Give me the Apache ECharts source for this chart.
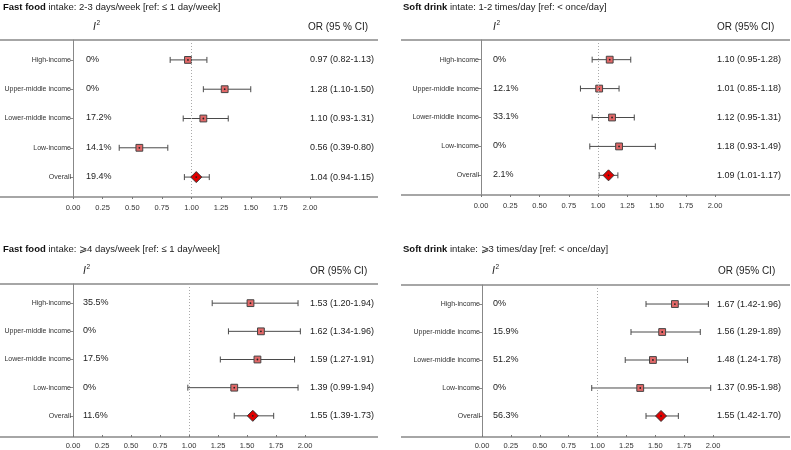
<!DOCTYPE html>
<html>
<head>
<meta charset="utf-8">
<script src="https://cdn.jsdelivr.net/npm/echarts@6/dist/echarts.min.js"></script>
<style>
  html, body { margin: 0; padding: 0; background: #fff; }
  #chart { width: 791px; height: 450px; }
</style>
</head>
<body>
<div id="chart"></div>
<script>
// regioes (linhas de cada painel)
const regioes = ['High-income', 'Upper-middle income', 'Lower-middle income', 'Low-income', 'Overall'];

// painel 1: fast food 2-3 dias/semana
const orFF23 = [0.97, 1.28, 1.10, 0.56, 1.04];
const loFF23 = [0.82, 1.10, 0.93, 0.39, 0.94];
const hiFF23 = [1.13, 1.50, 1.31, 0.80, 1.15];
const i2FF23 = ['0%', '0%', '17.2%', '14.1%', '19.4%'];

// painel 2: soft drink 1-2 vezes/dia
const orSD12 = [1.10, 1.01, 1.12, 1.18, 1.09];
const loSD12 = [0.95, 0.85, 0.95, 0.93, 1.01];
const hiSD12 = [1.28, 1.18, 1.31, 1.49, 1.17];
const i2SD12 = ['0%', '12.1%', '33.1%', '0%', '2.1%'];

// painel 3: fast food >= 4 dias/semana
const orFF4 = [1.53, 1.62, 1.59, 1.39, 1.55];
const loFF4 = [1.20, 1.34, 1.27, 0.99, 1.39];
const hiFF4 = [1.94, 1.96, 1.91, 1.94, 1.73];
const i2FF4 = ['35.5%', '0%', '17.5%', '0%', '11.6%'];

// painel 4: soft drink >= 3 vezes/dia
const orSD3 = [1.67, 1.56, 1.48, 1.37, 1.55];
const loSD3 = [1.42, 1.29, 1.24, 0.95, 1.42];
const hiSD3 = [1.96, 1.89, 1.78, 1.98, 1.70];
const i2SD3 = ['0%', '15.9%', '51.2%', '0%', '56.3%'];

const titulosNegrito = ['Fast food', 'Soft drink', 'Fast food', 'Soft drink'];
const titulosResto = [
  ' intake: 2-3 days/week [ref: \u2264 1 day/week]',
  ' intate: 1-2 times/day [ref: < once/day]',
  ' intake: \u2A7E4 days/week [ref: \u2264 1 day/week]',
  ' intake: \u2A7E3 times/day [ref: < once/day]'
];
const cabecalhosOR = ['OR (95 % CI)', 'OR (95% CI)', 'OR (95% CI)', 'OR (95% CI)'];

const paineis = [
  { or: orFF23, lo: loFF23, hi: hiFF23, i2: i2FF23 },
  { or: orSD12, lo: loSD12, hi: hiSD12, i2: i2SD12 },
  { or: orFF4, lo: loFF4, hi: hiFF4, i2: i2FF4 },
  { or: orSD3, lo: loSD3, hi: hiSD3, i2: i2SD3 }
];

// layout de cada painel (pixels)
const layout = [
  { left: 73, width: 237, top: 40, height: 157, ruleL: 0, ruleR: 378, tx: 3, ty: 2, hI: 93, hOR: 308, hy: 27, i2x: 13, orx: 0 },
  { left: 481, width: 234, top: 40, height: 155, ruleL: 401, ruleR: 790, tx: 403, ty: 2, hI: 493, hOR: 717, hy: 27, i2x: 12, orx: 2 },
  { left: 73, width: 232, top: 284, height: 153, ruleL: 0, ruleR: 378, tx: 3, ty: 244, hI: 83, hOR: 310, hy: 271, i2x: 10, orx: 5 },
  { left: 482, width: 231, top: 285, height: 152, ruleL: 401, ruleR: 790, tx: 403, ty: 244, hI: 492, hOR: 718, hy: 271, i2x: 11, orx: 4 }
];

const FONTE = '"Liberation Sans", Arial, Helvetica, sans-serif';

const chart = echarts.init(document.getElementById('chart'));

const grids = [], xAxes = [], yAxes = [], series = [], titles = [], graficos = [];

paineis.forEach((p, k) => {
  const L = layout[k];
  grids.push({ left: L.left, top: L.top, width: L.width, height: L.height });
  xAxes.push({
    type: 'value', gridIndex: k, min: 0, max: 2, interval: 0.25,
    axisLine: { show: false },
    axisTick: { show: true, length: 2, lineStyle: { color: '#777' } },
    splitLine: { show: false },
    axisLabel: { fontSize: 7.5, color: '#333', fontFamily: FONTE, margin: 7, formatter: v => v.toFixed(2) }
  });
  yAxes.push({
    type: 'value', gridIndex: k, inverse: true, min: 0.32, max: 5.68,
    axisLine: { show: true, lineStyle: { color: '#888', width: 1 } },
    axisTick: { show: true, length: 3, customValues: [1, 2, 3, 4, 5], lineStyle: { color: '#888' } },
    axisLabel: {
      show: true, customValues: [1, 2, 3, 4, 5], fontSize: 7, color: '#333', fontFamily: FONTE, margin: 2,
      formatter: v => regioes[Math.round(v) - 1] || ''
    },
    splitLine: { show: false }
  });

  const dados = regioes.map((r, i) => [p.or[i], p.lo[i], p.hi[i], i + 1]);

  series.push({
    type: 'custom',
    xAxisIndex: k, yAxisIndex: k,
    data: dados,
    silent: true,
    renderItem: (params, api) => {
      const i = params.dataIndex;
      const row = api.value(3);
      const y = api.coord([0, row])[1];
      const xo = api.coord([api.value(0), row])[0];
      const xl = api.coord([api.value(1), row])[0];
      const xh = api.coord([api.value(2), row])[0];
      const x0 = api.coord([0, row])[0];
      const x2 = api.coord([2, row])[0];
      const overall = i === regioes.length - 1;
      const cor = '#4a4a4a';
      const filhos = [
        { type: 'line', shape: { x1: xl, y1: y, x2: xh, y2: y }, style: { stroke: cor, lineWidth: 1 } },
        { type: 'line', shape: { x1: xl, y1: y - 3, x2: xl, y2: y + 3 }, style: { stroke: cor, lineWidth: 1 } },
        { type: 'line', shape: { x1: xh, y1: y - 3, x2: xh, y2: y + 3 }, style: { stroke: cor, lineWidth: 1 } }
      ];
      if (overall) {
        const s = 5.5;
        filhos.push({ type: 'polygon', shape: { points: [[xo, y - s], [xo + s, y], [xo, y + s], [xo - s, y]] },
          style: { fill: '#e00000', stroke: '#333', lineWidth: 1 } });
      } else {
        const s = 3.4;
        filhos.push({ type: 'rect', shape: { x: xo - s, y: y - s, width: 2 * s, height: 2 * s },
          style: { fill: '#e26868', stroke: '#444', lineWidth: 1 } });
      }
      filhos.push({ type: 'circle', shape: { cx: xo, cy: y, r: 0.9 }, style: { fill: '#222' } });
      filhos.push({ type: 'text', style: { text: p.i2[i], x: x0 + L.i2x, y: y - 0.5, fill: '#222', fontSize: 9,
        fontFamily: FONTE, align: 'left', verticalAlign: 'middle' } });
      const txt = p.or[i].toFixed(2) + ' (' + p.lo[i].toFixed(2) + '-' + p.hi[i].toFixed(2) + ')';
      filhos.push({ type: 'text', style: { text: txt, x: x2 + L.orx, y: y, fill: '#222', fontSize: 9,
        fontFamily: FONTE, align: 'left', verticalAlign: 'middle' } });
      return { type: 'group', children: filhos };
    },
    markLine: {
      silent: true, symbol: 'none', label: { show: false },
      lineStyle: { type: [1, 2], color: '#aaa', width: 1 },
      data: [{ xAxis: 1 }]
    }
  });

  titles.push({
    left: L.tx, top: L.ty, padding: 0,
    text: '{b|' + titulosNegrito[k] + '}{n|' + titulosResto[k] + '}',
    textStyle: {
      fontWeight: 'normal',
      rich: {
        b: { fontWeight: 'bold', fontSize: 9.5, color: '#111', fontFamily: FONTE },
        n: { fontWeight: 'normal', fontSize: 9.5, color: '#222', fontFamily: FONTE }
      }
    }
  });

  // linhas horizontais superior e inferior
  graficos.push({ type: 'line', shape: { x1: L.ruleL, y1: L.top, x2: L.ruleR, y2: L.top }, style: { stroke: '#888', lineWidth: 1.3 } });
  graficos.push({ type: 'line', shape: { x1: L.ruleL, y1: L.top + L.height, x2: L.ruleR, y2: L.top + L.height }, style: { stroke: '#888', lineWidth: 1.3 } });
  // cabecalhos
  graficos.push({ type: 'text', x: L.hI, y: L.hy, style: { text: 'I', fontStyle: 'italic', fontSize: 10.5, fill: '#222', fontFamily: FONTE, verticalAlign: 'middle' } });
  graficos.push({ type: 'text', x: L.hI + 3.5, y: L.hy - 4, style: { text: '2', fontSize: 6.5, fill: '#222', fontFamily: FONTE, verticalAlign: 'middle' } });
  graficos.push({ type: 'text', x: L.hOR, y: L.hy, style: { text: cabecalhosOR[k], fontSize: 10, fill: '#222', fontFamily: FONTE, verticalAlign: 'middle' } });
});

chart.setOption({
  animation: false,
  backgroundColor: '#fff',
  title: titles,
  grid: grids,
  xAxis: xAxes,
  yAxis: yAxes,
  series: series,
  graphic: graficos
});
</script>
</body>
</html>
